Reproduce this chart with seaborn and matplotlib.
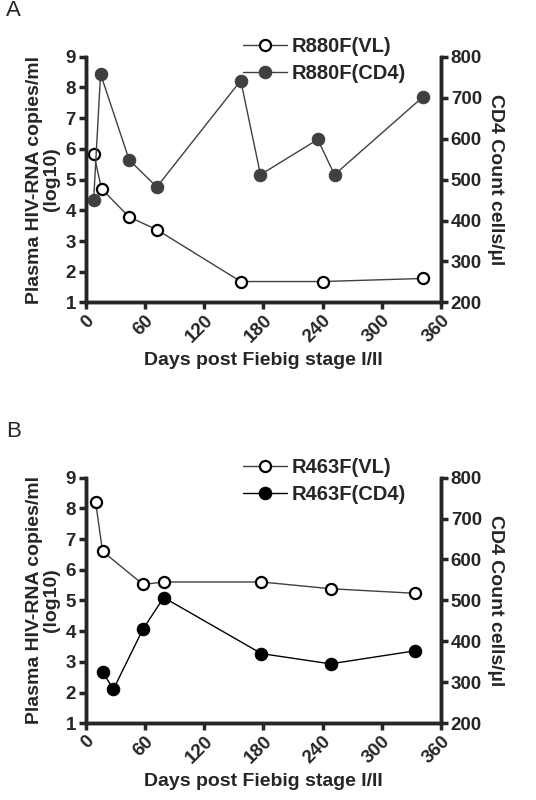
import matplotlib
matplotlib.use("Agg")
import matplotlib.pyplot as plt
import seaborn as sns
import pandas as pd

sns.set_style("ticks")
plt.rcParams['font.family'] = ['Liberation Sans', 'DejaVu Sans']
plt.rcParams['font.weight'] = 'bold'
plt.rcParams['axes.labelweight'] = 'bold'

a_vl_days = [8, 16, 44, 72, 157, 240, 342]
a_vl = [5.85, 4.7, 3.78, 3.37, 1.68, 1.68, 1.78]
a_cd4_days = [8, 15, 44, 72, 157, 177, 235, 252, 342]
a_cd4 = [450, 758, 548, 482, 742, 512, 598, 512, 703]
b_vl_days = [10, 17, 58, 79, 178, 248, 334]
b_vl = [8.2, 6.6, 5.52, 5.6, 5.6, 5.38, 5.23]
b_cd4_days = [17, 28, 58, 79, 178, 248, 334]
b_cd4 = [325, 283, 430, 507, 370, 345, 377]
xticks = [0, 60, 120, 180, 240, 300, 360]

fig = plt.figure(figsize=(5.36, 8), dpi=100)
panels = [("A", "R880F", a_vl_days, a_vl, a_cd4_days, a_cd4, "#404040", 0.622),
          ("B", "R463F", b_vl_days, b_vl, b_cd4_days, b_cd4, "black", 0.096)]
for letter, name, vd, vv, cd, cv, col, y0 in panels:
    ax = fig.add_axes([0.16, y0, 0.663, 0.307])
    ax2 = ax.twinx()
    sns.lineplot(x=vd, y=vv, ax=ax, color="#404040", lw=1, marker="o", markersize=8,
                 markerfacecolor="white", markeredgecolor="black", markeredgewidth=1.6,
                 label=f"{name}(VL)", legend=False)
    sns.lineplot(x=cd, y=cv, ax=ax2, color=col, lw=1, marker="o", markersize=9,
                 markerfacecolor=col, markeredgecolor=col,
                 label=f"{name}(CD4)", legend=False)
    ax.set_xlim(0, 360); ax.set_ylim(1, 9); ax2.set_ylim(200, 800)
    ax.set_xticks(xticks)
    ax.set_xticklabels([str(t) for t in xticks], rotation=45, ha="right", rotation_mode="anchor")
    ax.set_yticks(range(1, 10)); ax2.set_yticks(range(200, 801, 100))
    for a in (ax, ax2):
        for s in a.spines.values():
            s.set_linewidth(2.5)
        a.spines['top'].set_visible(False)
        a.tick_params(width=2.5, length=5, labelsize=13.5, pad=2)
    ax.set_xlabel("Days post Fiebig stage I/II", fontsize=14)
    ax.set_ylabel("Plasma HIV-RNA copies/ml\n(log10)", fontsize=14, linespacing=1.0, labelpad=4)
    ax2.set_ylabel("CD4 Count cells/µl", fontsize=14, rotation=270, labelpad=16)
    h1, l1 = ax.get_legend_handles_labels()
    h2, l2 = ax2.get_legend_handles_labels()
    ax2.legend(h1 + h2, l1 + l2, loc="lower left", bbox_to_anchor=(0.42, 0.86), frameon=False,
               prop={"size": 14.5, "weight": "bold"}, handlelength=2.2, handletextpad=0.2,
               borderaxespad=0, labelspacing=0.4)
    fig.text(0.012, y0 + 0.358, letter, fontsize=16, fontweight="normal")

fig.savefig("out.png", dpi=100)
